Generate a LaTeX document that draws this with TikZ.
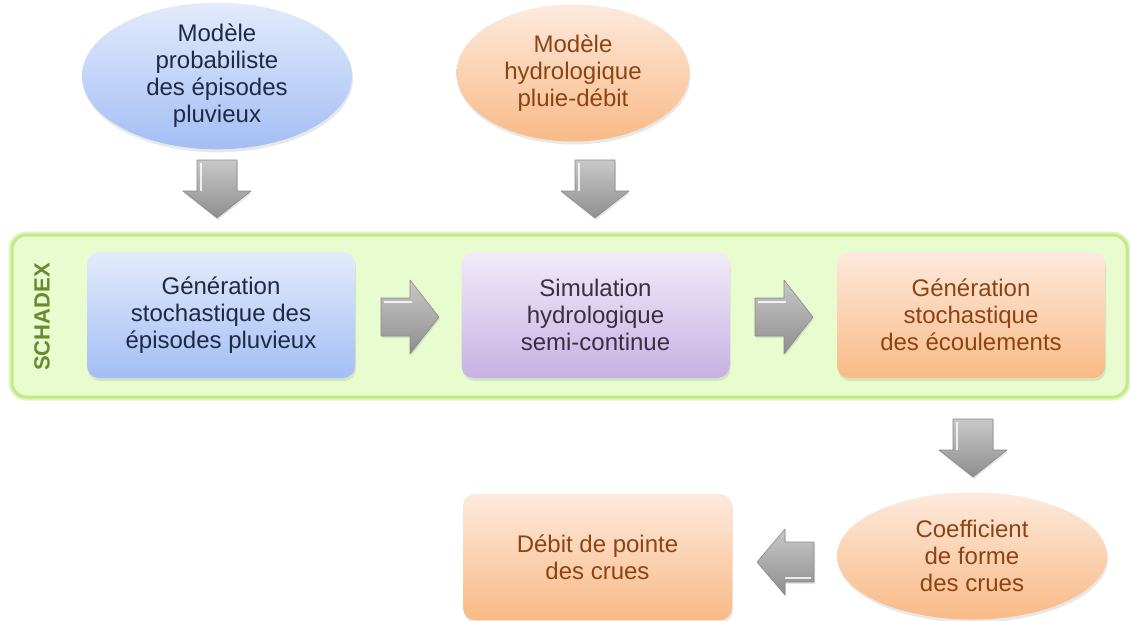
\documentclass[tikz,border=0pt]{standalone}
\usepackage{fontspec}
\setmainfont{Liberation Sans}
\usetikzlibrary{shapes.geometric,shadows,calc}
\definecolor{bandfill}{HTML}{E9FCD0}
\definecolor{bandline}{HTML}{C4EA88}
\definecolor{bandglow}{HTML}{E0F6C2}
\definecolor{schadex}{HTML}{6B8A2E}
\definecolor{bluetop}{HTML}{E3EBFB}
\definecolor{bluebot}{HTML}{A3BEF5}
\definecolor{oratop}{HTML}{FDEADD}
\definecolor{orabot}{HTML}{F9BA86}
\definecolor{purtop}{HTML}{F1EBF9}
\definecolor{purbot}{HTML}{C7B1E4}
\definecolor{navytxt}{HTML}{1E2A44}
\definecolor{brntxt}{HTML}{8E4312}
\definecolor{purtxt}{HTML}{3A2E40}
\definecolor{arrtop}{HTML}{C8C8C8}
\definecolor{arrbot}{HTML}{8E8E8E}
\definecolor{arrline}{HTML}{8A8A8A}
\begin{document}
\begin{tikzpicture}[x=1pt,y=-1pt,
  lbl/.style={align=center, font=\fontsize{24}{27}\selectfont},
  shad/.style={drop shadow={opacity=0.18, shadow xshift=1pt, shadow yshift=-3pt}},
  ellblue/.style={ellipse, lbl, shad, top color=bluetop, bottom color=bluebot, text=navytxt, inner sep=0pt},
  ellora/.style={ellipse, lbl, shad, top color=oratop, bottom color=orabot, text=brntxt, inner sep=0pt},
  boxbase/.style={rectangle, rounded corners=12pt, lbl, shad, minimum width=268pt, minimum height=126pt, inner sep=0pt},
  boxblue/.style={boxbase, top color=bluetop, bottom color=bluebot, text=navytxt},
  boxpur/.style={boxbase, top color=purtop, bottom color=purbot, text=purtxt},
  boxora/.style={boxbase, top color=oratop, bottom color=orabot, text=brntxt},
  arrstyle/.style={top color=arrtop, bottom color=arrbot, draw=arrline, line width=0.6pt, line join=round,
     drop shadow={opacity=0.2, shadow xshift=1pt, shadow yshift=-2pt}},
  downarr/.pic={\path[arrstyle] (-20,-29) -- (20,-29) -- (20,2) -- (34,2) -- (0,29) -- (-34,2) -- (-20,2) -- cycle;
                \draw[white, line width=2.5pt, opacity=0.8] (-16,-26) -- (-16,2);},
  rightarr/.pic={\path[arrstyle] (-29,-19) -- (0,-19) -- (0,-37) -- (29,0) -- (0,37) -- (0,19) -- (-29,19) -- cycle;
                \draw[white, line width=2.5pt, opacity=0.8] (-26,-15) -- (2,-15);},
  leftarr/.pic={\path[arrstyle] (29,-20) -- (0,-20) -- (0,-33) -- (-28,0) -- (0,33) -- (0,20) -- (29,20) -- cycle;
                \draw[white, line width=2.5pt, opacity=0.8] (26,16) -- (0,16);}
]
\useasboundingbox (0,0) rectangle (1130,621);
\fill[white] (0,0) rectangle (1130,621);

% top ellipses
\node[ellblue, minimum width=270pt, minimum height=139pt] (e1) at (217,76) {Modèle\\probabiliste\\des épisodes\\pluvieux};
\node[ellora, minimum width=233pt, minimum height=137pt] (e2) at (573,73) {Modèle\\hydrologique\\pluie-débit};

% SCHADEX band
\draw[bandglow, line width=7pt, rounded corners=14pt] (12,235) rectangle (1127,397);
\draw[bandline, line width=3pt, fill=bandfill, rounded corners=14pt] (12,235) rectangle (1127,397);
\node[rotate=90, font=\fontsize{22}{26}\selectfont\bfseries, text=schadex] (sx) at (42,317) {SCHADEX};

\node[boxblue] (b1) at (221,315) {Génération\\stochastique des\\épisodes pluvieux};
\node[boxpur]  (b2) at (595.5,315) {Simulation\\hydrologique\\semi-continue};
\node[boxora]  (b3) at (971,315) {Génération\\stochastique\\des écoulements};

% bottom
\node[ellora, minimum width=270pt, minimum height=127pt] (e3) at (972,556) {Coefficient\\de forme\\des crues};
\node[boxora, minimum width=269pt] (b4) at (597.5,557) {Débit de pointe\\des crues};

% block arrows
\pic at (217,189) {downarr};
\pic at (595,189) {downarr};
\pic at (410,317) {rightarr};
\pic at (784,317) {rightarr};
\pic at (973,448) {downarr};
\pic at (785,562) {leftarr};
\end{tikzpicture}
\end{document}
